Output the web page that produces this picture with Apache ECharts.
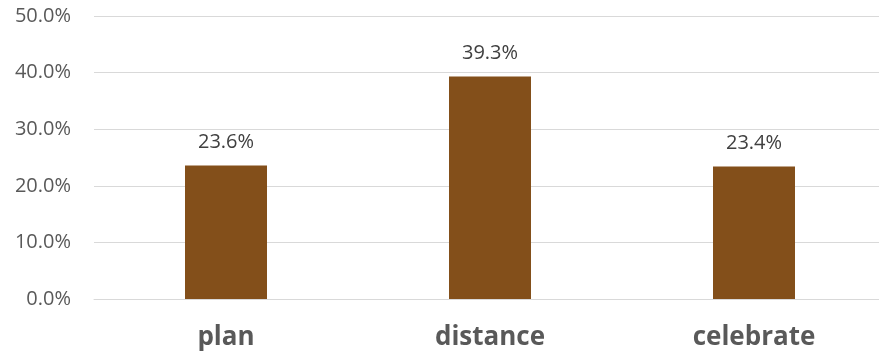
<!DOCTYPE html>
<html>
<head>
<meta charset="utf-8">
<script src="https://cdn.jsdelivr.net/npm/echarts@6/dist/echarts.min.js"></script>
<style>
html,body{margin:0;padding:0;background:#fff;}
#c{width:879px;height:357px;}
</style>
</head>
<body>
<div id="c"></div>
<script>
const categories = ['plan', 'distance', 'celebrate'];
const values = [23.6, 39.3, 23.4];
const yTicks = [0, 10, 20, 30, 40, 50];

const chart = echarts.init(document.getElementById('c'), null, {renderer: 'canvas'});
chart.setOption({
  animation: false,
  backgroundColor: '#ffffff',
  grid: {left: 94, top: 16, right: -7, bottom: 58, containLabel: false, outerBoundsMode: 'none'},
  xAxis: {
    type: 'category',
    data: categories,
    axisTick: {show: false},
    axisLine: {show: true, lineStyle: {color: '#d9d9d9', width: 1}},
    axisLabel: {
      color: '#595959', fontFamily: 'Open Sans', fontWeight: 'bold', fontSize: 26, margin: 26
    }
  },
  yAxis: {
    type: 'value',
    min: yTicks[0],
    max: yTicks[yTicks.length - 1],
    interval: 10,
    axisLine: {show: false},
    axisTick: {show: false},
    splitLine: {lineStyle: {color: '#d9d9d9', width: 1}},
    axisLabel: {
      color: '#595959', fontFamily: 'Open Sans', fontSize: 20, margin: 23,
      formatter: v => v.toFixed(1) + '%'
    }
  },
  series: [{
    type: 'bar',
    data: values,
    barWidth: 82,
    itemStyle: {color: '#834F1A'},
    label: {
      show: true, position: 'top', distance: 13,
      color: '#404040', fontFamily: 'Open Sans', fontSize: 20,
      formatter: p => p.value.toFixed(1) + '%'
    }
  }]
});
</script>
</body>
</html>
